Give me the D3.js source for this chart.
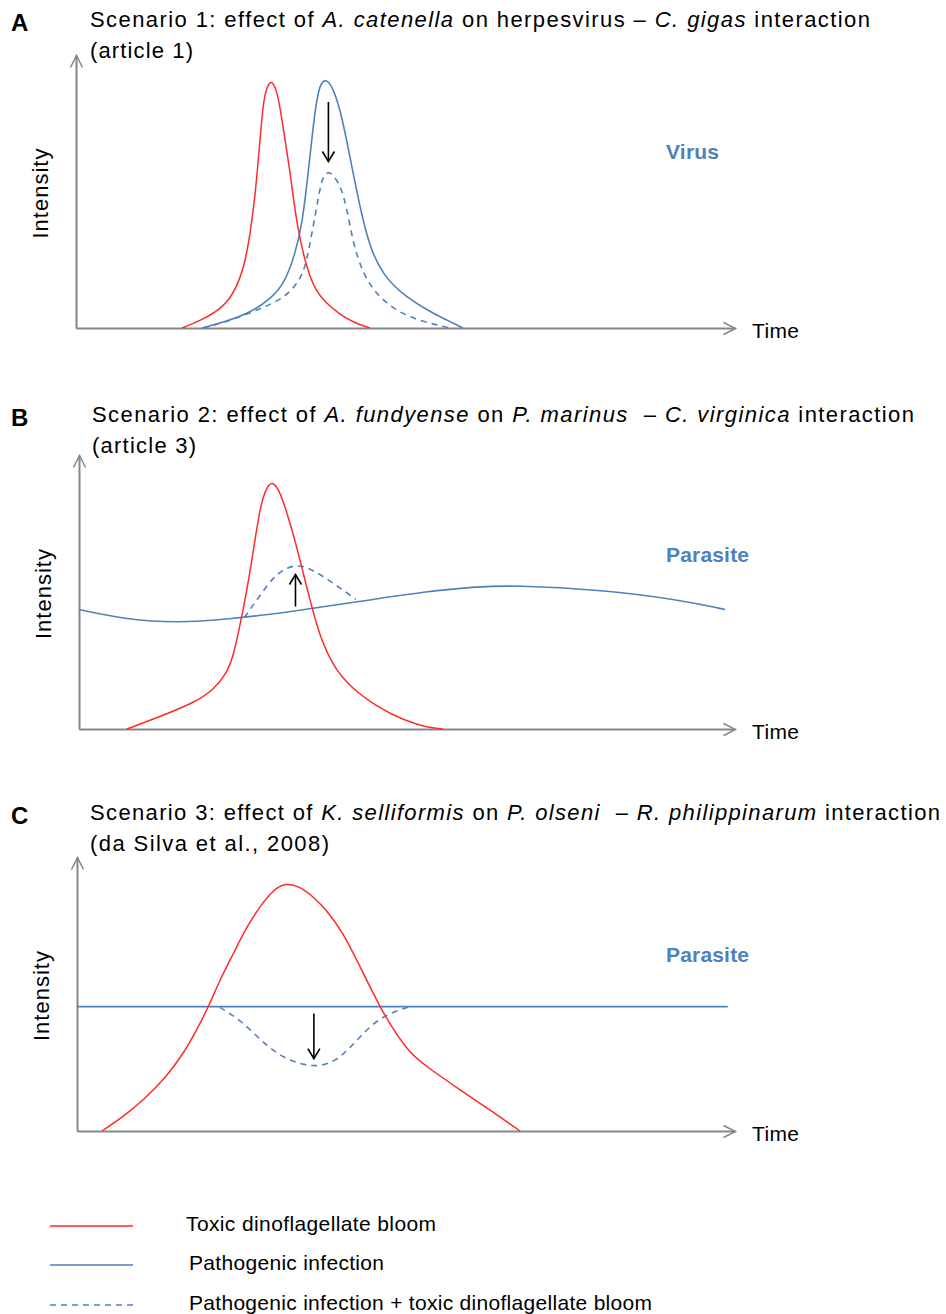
<!DOCTYPE html>
<meta charset="utf-8">
<head>
  <title>Scenarios</title>
</head>
<style>
  body { margin: 0; background: #fff; }
  text { font-family: "Liberation Sans", Arial, sans-serif; fill: #000; }
</style>
<body>
<svg width="946" height="1314"></svg>
<script src="https://cdnjs.cloudflare.com/ajax/libs/d3/7.8.5/d3.min.js"></script>
<script>

// time 0-100 along the axis, intensity 0-100 up the axis
var redA = [[16.1,0],[19.1,2.9],[22.2,7.3],[24.1,13.2],[25.6,23.1],[26.4,34.1],[27.2,48.7],[27.9,68.1],[28.4,82.8],[29.0,88.6],[29.6,90.6],[30.2,88.6],[30.8,83.5],[31.6,70.7],[32.5,57.1],[33.5,37.7],[34.9,22.7],[36.3,13.9],[37.8,9.5],[40.1,4.8],[42.3,1.8],[44.6,0]];
var blueA = [[19.1,0],[22.6,2.2],[26.7,5.9],[29.7,11.0],[31.7,16.8],[33.2,26.7],[34.3,37.7],[35.2,56.0],[36.0,74.4],[36.7,86.4],[37.3,90.1],[37.9,91.0],[38.7,89.4],[40.1,80.6],[41.6,62.3],[43.1,44.0],[44.6,29.3],[46.6,19.4],[49.6,12.1],[53.7,5.9],[57.8,1.1],[58.7,0]];
var dashA = [[19.3,0],[23.7,2.9],[28.2,7.3],[31.7,11.0],[34.3,18.3],[35.2,26.7],[36.3,41.4],[37.3,54.9],[37.9,56.4],[38.4,57.2],[39.0,56.0],[40.1,52.4],[41.1,44.0],[42.0,31.5],[43.6,19.4],[45.7,12.1],[48.7,5.9],[52.7,2.2],[56.8,0]];
var arrowA = [38.3, 82.8, 61.0];

var redB = [[7.3,0],[12.3,4.5],[17.4,9.4],[20.5,14.2],[22.5,20.3],[23.5,26.4],[24.5,37.3],[25.6,50.7],[26.6,65.3],[27.6,81.1],[28.6,88.4],[29.5,90.4],[30.6,87.2],[32.2,75.1],[33.7,61.7],[35.2,47.1],[36.7,33.7],[38.8,22.7],[41.3,15.4],[45.4,8.1],[49.4,3.3],[53.0,0.6],[55.5,0]];
var blueB = [[0,43.6],[7.3,39.9],[14.9,38.8],[22.5,39.9],[32.5,42.9],[42.7,46.5],[52.9,50.2],[60.9,52.0],[66.3,52.4],[79.2,50.9],[91.3,47.3],[98.5,43.6]];
var dashB = [[25.2,40.7],[27.5,48.4],[30.1,57.1],[33.1,60.4],[35.6,58.2],[38.6,53.5],[41.6,48.4],[42.2,47.3]];
var arrowB = [33.0, 44.7, 56.4];

var redC = [[3.8,0],[7.0,5.2],[10.1,11.3],[13.6,19.8],[16.2,28.4],[18.2,36.9],[20.0,45.4],[21.7,55.1],[23.8,64.9],[25.8,74.6],[27.8,81.9],[29.8,88.0],[31.7,90.6],[33.9,89.2],[35.9,85.5],[37.9,80.7],[40.5,72.2],[43.0,60.0],[46.0,45.4],[48.1,36.9],[50.6,28.4],[53.1,23.5],[58.2,15.0],[62.8,7.7],[67.3,0]];
var blueC = [[0,45.4],[98.9,45.4]];
var dashC = [[21.7,45.1],[24.8,40.7],[28.9,30.8],[31.9,26.0],[35.9,23.0],[39.5,25.3],[42.6,33.3],[46.0,41.8],[50.6,45.4]];
var arrowC = [36.0, 42.9, 26.4];

var letters = ["A", "B", "C"];
var titles = [
  [["Scenario 1: effect of ", 0], ["A. catenella", 1], [" on herpesvirus \u2013 ", 0], ["C. gigas", 1], [" interaction", 0]],
  [["Scenario 2: effect of ", 0], ["A. fundyense", 1], [" on ", 0], ["P. marinus", 1], ["  \u2013 ", 0], ["C. virginica", 1], [" interaction", 0]],
  [["Scenario 3: effect of ", 0], ["K. selliformis", 1], [" on ", 0], ["P. olseni", 1], ["  \u2013 ", 0], ["R. philippinarum", 1], [" interaction", 0]]
];
var sources = ["(article 1)", "(article 3)", "(da Silva et al., 2008)"];
var pathogenLabels = ["Virus", "Parasite", "Parasite"];
var legendLabels = ["Toxic dinoflagellate bloom", "Pathogenic infection", "Pathogenic infection + toxic dinoflagellate bloom"];

var red = "#ff2a2a", blue = "#4f81bd", grey = "#868686";

var svg = d3.select("svg");

// the original text is set wide; stretch spacing to the measured width
function fit(sel, width) {
  var node = sel.node();
  var n = node.textContent.length;
  var w = node.getComputedTextLength();
  sel.style("letter-spacing", ((width - w) / (n - 1)) + "px");
  return sel;
}

var defs = svg.append("defs");
defs.append("marker")
  .attr("id", "axisHead")
  .attr("markerUnits", "userSpaceOnUse")
  .attr("viewBox", "-13 -8 15 16")
  .attr("markerWidth", 15).attr("markerHeight", 16)
  .attr("refX", 0).attr("refY", 0)
  .attr("orient", "auto")
  .append("path")
  .attr("d", "M-12,-6L0,0L-12,6")
  .attr("fill", "none").attr("stroke", grey).attr("stroke-width", 1.5);
defs.append("marker")
  .attr("id", "blackHead")
  .attr("markerUnits", "userSpaceOnUse")
  .attr("viewBox", "-12 -8 14 16")
  .attr("markerWidth", 14).attr("markerHeight", 16)
  .attr("refX", 0).attr("refY", 0)
  .attr("orient", "auto")
  .append("path")
  .attr("d", "M-10,-6L0,0L-10,6")
  .attr("fill", "none").attr("stroke", "#000").attr("stroke-width", 1.6);

var panels = [
  {left: 76, right: 735, bottom: 328, top: 55, red: redA, blue: blueA, dash: dashA, arrow: arrowA,
   titleX: 90, titleY: 27, titleW: 780, srcW: 103, labelY: 159, labelW: 53},
  {left: 79, right: 735, bottom: 729, top: 455, red: redB, blue: blueB, dash: dashB, arrow: arrowB,
   titleX: 92, titleY: 422, titleW: 822, srcW: 104, labelY: 562, labelW: 83},
  {left: 77, right: 735, bottom: 1131, top: 857, red: redC, blue: blueC, dash: dashC, arrow: arrowC,
   titleX: 90, titleY: 820, titleW: 850, srcW: 239, labelY: 962, labelW: 83}
];

panels.forEach(function(p, i) {
  var x = d3.scaleLinear().domain([0, 100]).range([p.left, p.right]);
  var y = d3.scaleLinear().domain([0, 100]).range([p.bottom, p.top]);

  var line = d3.line()
    .x(function(d) { return x(d[0]); })
    .y(function(d) { return y(d[1]); })
    .curve(d3.curveBasis);

  // panel letter + title
  svg.append("text")
    .attr("x", 11).attr("y", p.titleY + 4)
    .style("font-size", "24px").style("font-weight", "bold")
    .text(letters[i]);

  var t = svg.append("text")
    .attr("x", p.titleX).attr("y", p.titleY)
    .attr("xml:space", "preserve")
    .style("font-size", "22px");
  titles[i].forEach(function(s) {
    t.append("tspan").style("font-style", s[1] ? "italic" : "normal").text(s[0]);
  });
  fit(t, p.titleW);
  fit(svg.append("text")
    .attr("x", p.titleX).attr("y", p.titleY + 31)
    .style("font-size", "22px")
    .text(sources[i]), p.srcW);

  // axes
  var xAxis = d3.axisBottom(x).tickValues([]).tickSizeOuter(0);
  var yAxis = d3.axisLeft(y).tickValues([]).tickSizeOuter(0);
  var gx = svg.append("g").attr("transform", "translate(0," + p.bottom + ")").call(xAxis);
  var gy = svg.append("g").attr("transform", "translate(" + p.left + ",0)").call(yAxis);
  [gx, gy].forEach(function(g) {
    g.select(".domain")
      .attr("stroke", grey).attr("stroke-width", 2)
      .attr("marker-end", "url(#axisHead)");
  });

  fit(svg.append("text")
    .attr("x", 752).attr("y", p.bottom + 10)
    .style("font-size", "21px")
    .text("Time"), 47);
  fit(svg.append("text")
    .attr("transform", "translate(" + (p.left - 28) + "," + ((p.bottom + p.top) / 2 + 47) + ") rotate(-90)")
    .style("font-size", "22px")
    .text("Intensity"), 90);

  // curves
  svg.append("path").datum(p.blue).attr("d", line)
    .attr("fill", "none").attr("stroke", blue).attr("stroke-width", 1.6);
  svg.append("path").datum(p.dash).attr("d", line)
    .attr("fill", "none").attr("stroke", blue).attr("stroke-width", 1.6)
    .attr("stroke-dasharray", "6,5");
  svg.append("path").datum(p.red).attr("d", line)
    .attr("fill", "none").attr("stroke", red).attr("stroke-width", 1.5);

  // effect arrow
  svg.append("line")
    .attr("x1", x(p.arrow[0])).attr("x2", x(p.arrow[0]))
    .attr("y1", y(p.arrow[1])).attr("y2", y(p.arrow[2]))
    .attr("stroke", "#000").attr("stroke-width", 1.6)
    .attr("marker-end", "url(#blackHead)");

  fit(svg.append("text")
    .attr("x", 666).attr("y", p.labelY)
    .style("font-size", "21px").style("font-weight", "bold")
    .style("fill", blue)
    .text(pathogenLabels[i]), p.labelW);
});

// legend
var legend = svg.append("g");
var legendY = [1226, 1265, 1305];
var legendX = [186, 189, 189];
var legendW = [250, 195, 463];
var legendStyles = [[red, null], [blue, null], [blue, "6,5"]];
legendLabels.forEach(function(label, i) {
  legend.append("line")
    .attr("x1", 50).attr("x2", 133)
    .attr("y1", legendY[i]).attr("y2", legendY[i])
    .attr("stroke", legendStyles[i][0]).attr("stroke-width", 1.6)
    .attr("stroke-dasharray", legendStyles[i][1]);
  fit(legend.append("text")
    .attr("x", legendX[i]).attr("y", legendY[i] + 5)
    .style("font-size", "21px")
    .text(label), legendW[i]);
});

</script>
</body>
